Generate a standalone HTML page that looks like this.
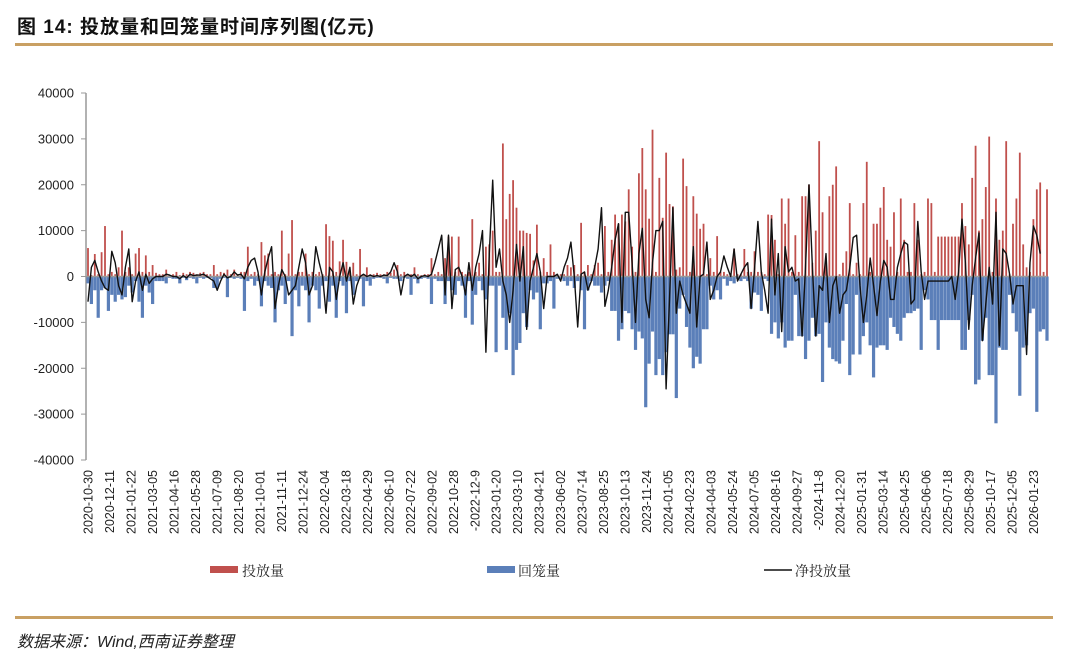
<!DOCTYPE html>
<html><head><meta charset="utf-8">
<style>
html,body{margin:0;padding:0;background:#fff;}
body{width:1080px;height:663px;overflow:hidden;position:relative;font-family:"Liberation Sans","Noto Sans CJK SC",sans-serif;}
#title{position:absolute;left:17px;top:12px;font-size:19px;font-weight:bold;color:#111;letter-spacing:1px;}
.rule{position:absolute;left:15px;width:1038px;height:3px;background:#c9a063;}
#source{position:absolute;left:17px;top:628px;font-size:16px;font-style:italic;color:#222;}
svg{position:absolute;left:0;top:0;}
</style></head>
<body>
<div id="title">图 14:  投放量和回笼量时间序列图(亿元)</div>
<div class="rule" style="top:43px"></div>
<div class="rule" style="top:616px"></div>
<div id="source">数据来源：Wind,西南证券整理</div>
<svg id="chart" width="1080" height="663"></svg>
<script>
// values in thousands of 亿元
const injection = [6.2,0.3,4.9,0.5,5.3,11,0.5,1,0.5,2,
10,1,2,0.5,5,6.2,1,4.6,1,2.5,
0.8,0.5,0.5,1.5,0.3,0.5,1,0.3,0.8,0.5,
1,0.8,0.5,0.8,1,0.5,0.5,2.5,0.5,1,
0.8,1.5,0.5,1.5,0.5,1,1,6.5,
0.5,1,0.5,7.5,4.6,5,0.5,1,0.5,10,
0.5,5,12.3,0.5,1,1,5,0.5,1,0.5,
1,0.5,11.4,8.8,7.8,1,3.3,8,3.2,1,
3,0.5,6,0.5,2,0.5,0.5,0.8,0.5,0.5,
1,0.8,1.5,2.5,0.5,1,0.5,0.5,2,
0.5,0.3,0.5,0.5,4,0.5,1,0.5,4,8.7,
8.7,1,8.7,1,0.5,1,12.5,1,3,0.5,
6.5,7,10,1,1,29,12.5,18,21,15,
10,10,9.5,9.3,3.5,11.3,1,4,1,7,
1,0.5,0.5,0.5,2.5,2,2.5,0.5,
11.7,1,2.5,0.5,2.5,3,0.5,11,1,8,
13.5,11.5,13.5,12,19,6.5,1,22.5,28,19,
12.6,32,1,21.5,12.8,27,15.8,15.3,1.5,2,
25.7,19.7,1,17.5,13.7,10.4,11.5,0.5,4,1,
8.8,1,1,0.5,0.5,6,0.5,0.5,6,1,
1,5.5,1,1,0.5,13.5,13.4,8,0.5,17,
11.5,17,1,9,1,17.5,17.5,20,3,10,
29.5,14,4,17.5,20,24,0.5,3,5.5,16,
0.5,3,0.5,16,25,1,11.5,11.5,15,19.5,
8,6.5,14,1,17,8,1,1,16,8,
0.5,1,17,16,1,8.7,8.7,8.7,8.7,8.7,
8.7,8.7,16,11,7,21.5,28.5,10,12.5,19.5,
30.5,1,17,8,10,29.5,0.5,11.5,17,27,
7,2,1,12.5,19,20.5,1,19];
const withdrawal = [-1.5,-6,-3,-9,-3,-2.5,-7.5,-4,-5.5,-4,
-5,-4.5,-2,-3.5,-1,-5.5,-9,-2,-3.5,-6,
-1,-1,-1,-1.5,-0.3,-0.5,-0.5,-1.5,-0.3,-0.8,
-0.3,-0.5,-1.5,-0.3,-0.5,-0.3,-0.3,-2.5,-2.5,-0.5,
-0.3,-4.5,-0.3,-0.5,-0.3,-0.5,-7.5,-1,
-0.5,-2,-1,-6.5,-1,-2,-2.5,-10,-3,-2,
-6,-1,-13,-3,-6.5,-2,-3,-10,-2,-3,
-7,-2,-1,-5.5,-2,-9,-1,-2,-8,-1,
-4,-1,-0.5,-6.5,-1,-2,-0.5,-0.3,-0.3,-0.5,
-1.5,-0.3,-0.5,-0.5,-1,-0.3,-0.5,-4,-0.5,
-1.5,-0.5,-0.3,-0.5,-6,-0.5,-1,-1,-6,-1,
-3,-4,-1,-2,-9,-1,-10.5,-4,-1,-3,
-5,-2,-2,-16.5,-2,-9,-16,-8,-21.5,-16,
-14.5,-8,-11,-3,-5,-3.5,-11.5,-1.5,-1.5,-1,
-7,-0.5,-0.5,-1,-2,-1,-2.5,-1,
-3,-11.5,-3,-1,-2,-2,-3.5,-2,-1,-7.5,
-7.5,-14,-11.5,-7.5,-8,-11.5,-16,-12,-13.5,-28.5,
-19,-12,-21.5,-18,-21.5,-16.5,-12.6,-12.6,-26.5,-7,
-4,-11,-15.5,-20,-17.5,-19,-11.5,-11.5,-2,-5,
-3,-5,-0.5,-2,-1,-1.5,-0.5,-1,-0.5,-1,
-7,-3.5,-4,-7.5,-0.5,-1,-12.5,-10,-13.5,-10,
-15.5,-14,-14,-4,-13,-13,-18,-14,-9,-13,
-12.5,-23,-10,-15.5,-18,-18.5,-19,-14,-6,-21.5,
-17,-4,-17,-13,-10,-15,-22,-15.5,-15,-15,
-16,-9,-11,-12.5,-14,-9,-8,-8,-7.5,-7,
-16,-3,-5,-9.5,-9.5,-16,-9.5,-9.5,-9.5,-9.5,
-9.5,-9.5,-16,-16,-9.5,-4,-23.5,-22.5,-14,-9,
-21.5,-21.5,-32,-15.5,-16,-16,-4,-8,-12,-26,
-15.5,-15,-8,-7,-29.5,-12,-11.5,-14];
const netInjection = [-5.5,2,3.5,1,-1,-2.5,-3,5.5,3,-2,
-4,2,6,-5.5,-1,1,-3,0.5,-1.5,-0.5,
0,0,0,0.5,0.3,0,0,-0.5,0.2,-0.3,
0.5,0.2,0.3,0.3,0.5,0,-0.5,-1,-3,-1,
0.5,-0.3,0,1,0.3,0.5,-0.5,2,
3.5,4,1,-4,1,4,6.5,-7,-2,1.5,
0,-4,-3,-2,2,6,3,-4,-2,6.5,
3,0,-8,2,1,-5,0,3,-1,2,
-6,-2,0,0.5,0,0.3,0,0.2,0,0.3,
0.2,1,3,1,-4,0,0.5,0,0.5,
-0.5,0,0.2,0,0.5,3,6,9,-4,9,
-7,1.5,2,0,-4,3,-3,2,5,10,
-16.5,5,21,2,6,-1,-4,-10,-3,7,
-1,6.5,-11.5,-1,2,5,1,-7,0,0,
0,0.5,-1,2,4,7.5,0,-11,
0.5,1,-3,-1,2,6,15,-6.5,-3,2,
8,11.5,-10,14,14,3,-10,5,10.5,-5,
-9,3,10,10,12,-24.5,-5,15,-8,-1,
-4,-6,-8,6.5,-11,0,0.5,7.5,-5,-3,
0,1,4.5,2,0,6,-1,0.5,2,3,
-7,1.5,12,1,-3,-8,12.5,-4,5,-12,
6.5,1,2,-1,-0.5,-13,2,20,2,-13,
-2,-3,5,-10,-2,0,-8,-4,-3,2,
8.5,9,-2,-10,-4,4,-2,-8.5,-1,3.5,
2,-5,-5,2,5,7.5,7,-6,-5,12,
1,-5,-1,-1,-1,-1,-1,-1,-1,0,
-5,1,12.5,3,-11.5,-2,4,9.5,-14,-6,
2,-6,14,-15,6,5,0.5,-6,-2,-2,
-2,-17,3,11,9,5,null,null];
const yTicks = [40000,30000,20000,10000,0,-10000,-20000,-30000,-40000];
const xLabels = ["2020-10-30","2020-12-11","2021-01-22","2021-03-05","2021-04-16","2021-05-28","2021-07-09","2021-08-20","2021-10-01","2021-11-11","2021-12-24","2022-02-04","2022-03-18","2022-04-29","2022-06-10","2022-07-22","2022-09-02","2022-10-28","-2022-12-9","2023-01-20","2023-03-10","2023-04-21","2023-06-02","2023-07-14","2023-08-25","2023-10-13","2023-11-24","2024-01-05","2024-02-23","2024-04-03","2024-05-24","2024-07-05","2024-08-16","2024-09-27","-2024-11-8","2024-12-20","2025-01-31","2025-03-14","2025-04-25","2025-06-06","2025-07-18","2025-08-29","2025-10-17","2025-12-05","2026-01-23"];

const NS='http://www.w3.org/2000/svg';
const svg=document.getElementById('chart');
const X0=88, X1=1047, YT=93, YB=460;
const N=injection.length;
function xs(i){return X0+i*(X1-X0)/(N-1);}
function ys(v){return YT+(40000-v)/80000*(YB-YT);}
function mk(tag,attrs){const e=document.createElementNS(NS,tag);for(const k in attrs)e.setAttribute(k,attrs[k]);svg.appendChild(e);return e;}

// axis
const ax=mk('line',{x1:86,y1:YT,x2:86,y2:YB,stroke:'#999','stroke-width':1.5});


yTicks.forEach(t=>{
  const y=ys(t);
  const tk=mk('line',{x1:81,y1:y,x2:86,y2:y,stroke:'#999','stroke-width':1});
  
  
  const tx=mk('text',{x:74,y:y+4.5,'text-anchor':'end','font-size':13,fill:'#222','font-family':'Liberation Sans, sans-serif'});
  tx.textContent=String(t);
  
  
});
// bars
for(let i=0;i<N;i++){
  const x=xs(i);
  const wv=withdrawal[i]*1000;
  const b=mk('rect',{x:x-1.6,y:ys(0),width:3.2,height:Math.max(0,ys(wv)-ys(0)),fill:'#5b7fb9'});
  
  
}
for(let i=0;i<N;i++){
  const x=xs(i);
  const iv=injection[i]*1000;
  const r=mk('rect',{x:x-0.9,y:ys(iv),width:1.8,height:Math.max(0,ys(0)-ys(iv)),fill:'#c0504d'});
  
  
}
const base=mk('line',{x1:86,y1:ys(0),x2:X1,y2:ys(0),stroke:'#999','stroke-width':1.5});


// net line
let d='',pen=false;
for(let i=0;i<N;i++){
  const v=netInjection[i];
  if(v===null||v===undefined){pen=false;continue;}
  d+=(pen?'L':'M')+xs(i).toFixed(1)+','+ys(v*1000).toFixed(1);
  pen=true;
}
const ln=mk('path',{d:d,fill:'none',stroke:'#111','stroke-width':1.4,'stroke-linejoin':'round'});


// x labels
const lastLbl=278;
xLabels.forEach((t,k)=>{
  const x=xs(k*lastLbl/(xLabels.length-1));
  const tx=mk('text',{x:0,y:0,transform:'translate('+(x+4.5)+',470) rotate(-90)','text-anchor':'end','font-size':12.5,fill:'#222','font-family':'Liberation Sans, sans-serif'});
  tx.textContent=t;
  
  
});
// legend
function legText(x,t,name){const e=mk('text',{x:x,y:576,'font-size':14,fill:'#222','font-family':'Liberation Serif, Noto Serif CJK SC, serif'});e.textContent=t;}
const s1=mk('rect',{x:210,y:566,width:28,height:7,fill:'#c0504d'});


legText(242,'投放量','legend-label-injection');
const s2=mk('rect',{x:487,y:566,width:28,height:7,fill:'#5b7fb9'});


legText(518,'回笼量','legend-label-withdrawal');
const s3=mk('line',{x1:764,y1:570,x2:792,y2:570,stroke:'#111','stroke-width':1.5});


legText(795,'净投放量','legend-label-net');
</script>
</body></html>
